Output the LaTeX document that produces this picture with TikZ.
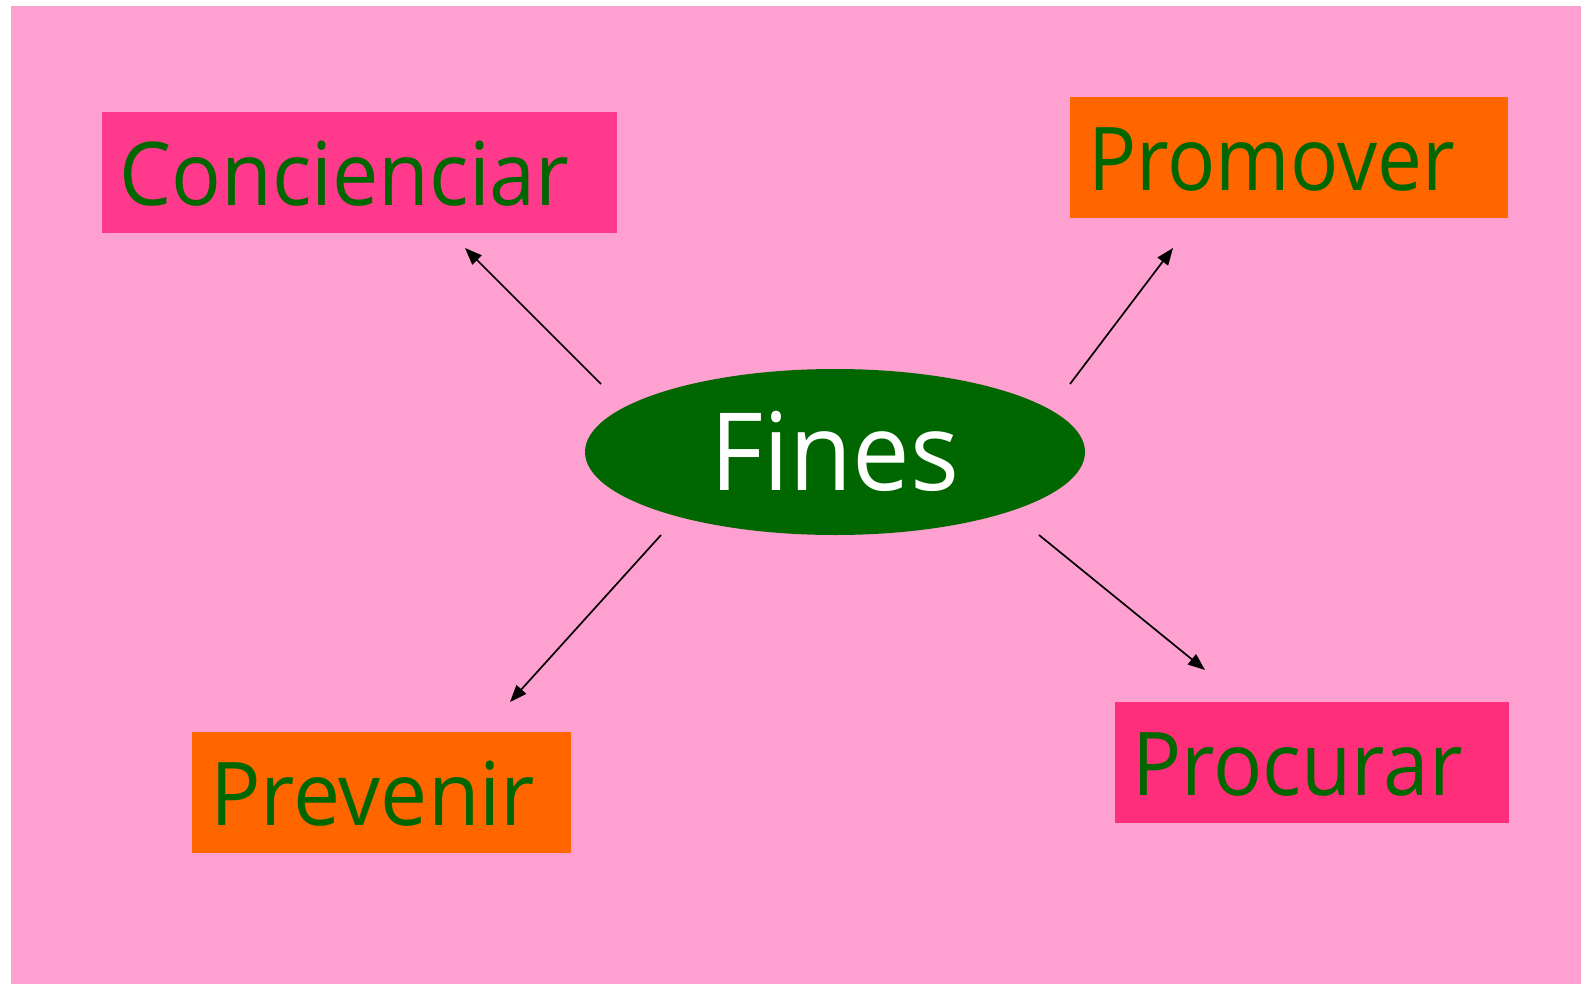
\documentclass[tikz,border=0pt]{standalone}
\usepackage{fontspec}
\setmainfont{Open Sans}
\usetikzlibrary{shapes.geometric,arrows.meta}
\definecolor{bgpink}{RGB}{255,161,208}
\definecolor{boxpinkA}{RGB}{255,58,140}
\definecolor{boxpinkB}{RGB}{255,46,122}
\definecolor{boxorange}{RGB}{255,102,0}
\definecolor{dgreen}{RGB}{0,102,0}
\tikzset{
  box/.style={anchor=north west, inner sep=0pt, text=dgreen,
    font=\fontsize{88}{88}\selectfont},
  conn/.style={line width=1.7pt, -{Triangle[length=17pt,width=13pt]}},
}
\newcommand{\boxtext}[4]{\hbox to #1pt{\hskip #2pt\scalebox{#4}[1]{#3}\hfil}}
\begin{document}
\begin{tikzpicture}[x=1pt,y=-1pt]
\useasboundingbox (0,0) rectangle (1581,984);
\fill[bgpink] (11,6) rectangle (1581,984);
% boxes
\node[box, fill=boxpinkA, text height=93.7pt, text depth=27.3pt] (conc) at (102,112)
  {\boxtext{515}{17}{Concienciar}{0.94}};
\node[box, fill=boxorange, text height=93pt, text depth=28pt] (prom) at (1070,97)
  {\boxtext{438}{18}{Promover}{0.91}};
\node[box, fill=boxorange, text height=93pt, text depth=28pt] (prev) at (192,732)
  {\boxtext{379}{18}{Prevenir}{0.955}};
\node[box, fill=boxpinkB, text height=93pt, text depth=28pt] (proc) at (1115,702)
  {\boxtext{394}{17}{Procurar}{0.93}};
% ellipse
\node[ellipse, fill=dgreen, text=white, minimum width=500pt, minimum height=166pt,
  inner sep=0pt, text height=77pt, text depth=0pt,
  font=\fontsize{108}{108}\selectfont] (fines) at (835,452) {\scalebox{0.95}[1]{Fines}};
% connector ends
\coordinate (s1) at (601,384); \coordinate (e1) at (465,248);
\coordinate (s2) at (1070,384); \coordinate (e2) at (1173,248);
\coordinate (s3) at (661,535); \coordinate (e3) at (510,702);
\coordinate (s4) at (1039,535); \coordinate (e4) at (1205,670);
\draw[conn] (s1) -- (e1);
\draw[conn] (s2) -- (e2);
\draw[conn] (s3) -- (e3);
\draw[conn] (s4) -- (e4);
\end{tikzpicture}
\end{document}
